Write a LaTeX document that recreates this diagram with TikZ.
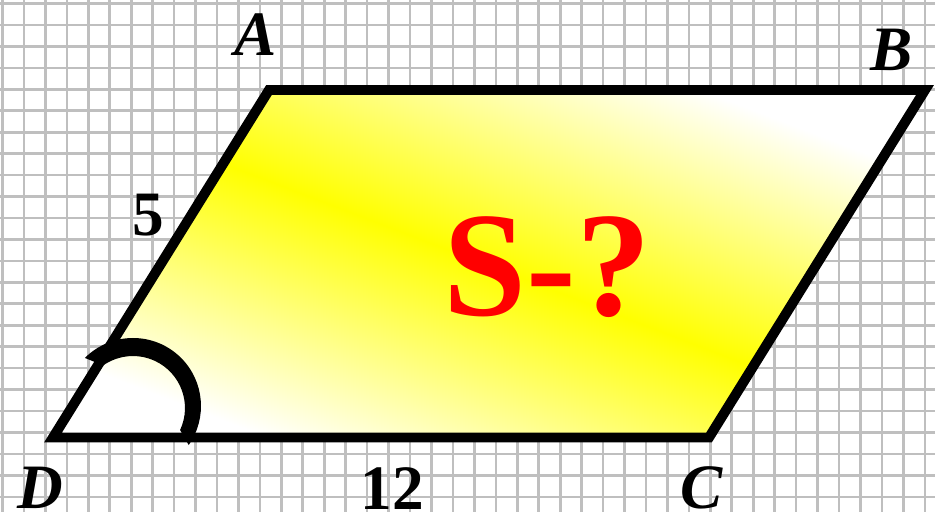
\documentclass[tikz,border=0pt]{standalone}
\usepackage{fontspec}
\newfontfamily\tnr{Liberation Serif}
\begin{document}
\begin{tikzpicture}[x=0.02cm,y=-0.02cm,
  gridline/.style={draw=black!25,line width=1.5pt},
  shapeline/.style={draw=black,line width=5.67pt,line join=miter},
  vlabel/.style={inner sep=0pt,anchor=base,font=\tnr\fontsize{36}{40}\selectfont\bfseries\itshape},
  nlabel/.style={inner sep=0pt,anchor=base,font=\tnr\fontsize{36}{40}\selectfont\bfseries},
  qlabel/.style={inner sep=0pt,anchor=base,text=red,font=\tnr\fontsize{85}{90}\selectfont\bfseries}]
\useasboundingbox (0,0) rectangle (935,512);
\fill[white] (0,0) rectangle (935,512);
% grid
\foreach \i in {0,...,43} \draw[gridline] ({2.5+21.45*\i},0) -- ({2.5+21.45*\i},512);
\foreach \j in {0,...,23} \draw[gridline] (0,{3.5+21.45*\j}) -- (935,{3.5+21.45*\j});
% vertices
\coordinate (A) at (269,90);
\coordinate (B) at (925,90);
\coordinate (C) at (709,437.5);
\coordinate (D) at (53,437.5);
% fill
\begin{scope}
  \clip (A) -- (B) -- (C) -- (D) -- cycle;
  \fill[white] (A) -- (B) -- (C) -- (D) -- cycle;
  \begin{scope}[transform canvas={rotate around={-21:(488,265)}}]
    \shade[top color=white,bottom color=white,middle color=yellow] (-212,25) rectangle (1188,505);
  \end{scope}
\end{scope}
\draw[shapeline] (A) -- (B) -- (C) -- (D) -- cycle;
% angle mark
\fill[black] (84.9,357.9) arc[start angle=-135,end angle=35,radius=68]
  -- (180.1,430) arc[start angle=25,end angle=-125,radius=52] -- cycle;
% labels
\node[vlabel] (lA) at (256,55) {A};
\node[vlabel] (lB) at (892,70) {B};
\node[vlabel] (lC) at (702,508) {C};
\node[vlabel] (lD) at (40,508) {D};
\node[nlabel] (l5) at (148,235) {5};
\node[nlabel] (l12) at (392,509) {12};
\node[qlabel] (lS) at (547,315) {S-?};
\end{tikzpicture}
\end{document}
